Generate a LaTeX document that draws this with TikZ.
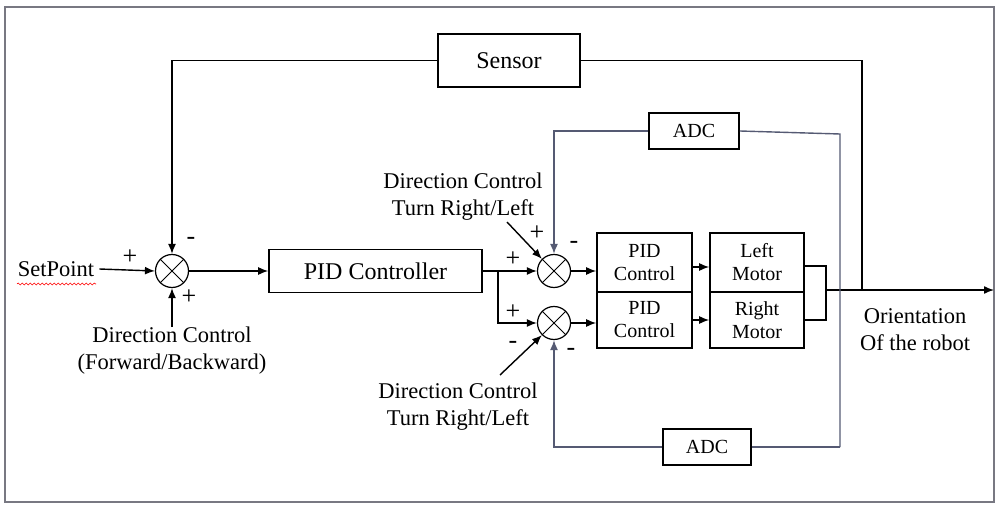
\documentclass[tikz,border=0pt]{standalone}
\usepackage{fontspec}
\setmainfont{Liberation Serif}
\usetikzlibrary{arrows.meta,decorations.pathmorphing}
\definecolor{adcline}{RGB}{85,90,115}
\definecolor{framecol}{RGB}{120,120,130}
\begin{document}
\begin{tikzpicture}[x=1pt,y=-1pt,
  lbl/.style={font=\fontsize{22.5}{27}\selectfont, align=center, inner sep=0},
  sgn/.style={font=\fontsize{26}{26}\selectfont, inner sep=0},
  blk/.style={draw, line width=1.6pt, inner sep=0, align=center, font=\fontsize{20}{23}\selectfont},
  bigblk/.style={blk, font=\fontsize{24}{28}\selectfont},
  sumj/.style={circle, draw, line width=1.2pt, minimum size=33pt, inner sep=0,
     path picture={\draw[line width=1pt] (path picture bounding box.center) +(45:17pt) -- +(225:17pt)
                     (path picture bounding box.center) +(135:17pt) -- +(315:17pt);}},
  ln/.style={line width=1.4pt},
  arr/.style={line width=1.4pt, -{Latex[length=10pt,width=8pt]}},
  aln/.style={line width=1.4pt, draw=adcline},
  aarr/.style={line width=1.4pt, draw=adcline, -{Latex[length=10pt,width=8pt]}}
]
\useasboundingbox (0,0) rectangle (998,505);
\draw[framecol, line width=1.4pt] (5,7) rectangle (994,502);

% blocks
\node[bigblk, minimum width=142pt, minimum height=53pt] (sensor) at (509,60.5) {Sensor};
\node[bigblk, minimum width=213pt, minimum height=43pt] (pidc) at (375.5,271) {PID Controller};
\node[blk, minimum width=95pt, minimum height=59pt] (pid1) at (644.5,262.5) {PID\\Control};
\node[blk, minimum width=95pt, minimum height=56pt] (pid2) at (644.5,320) {PID\\Control};
\node[blk, minimum width=94pt, minimum height=59pt] (lm) at (757,262.5) {Left\\Motor};
\node[blk, minimum width=94pt, minimum height=56pt] (rm) at (757,320) {Right\\Motor};
\node[blk, minimum width=90pt, minimum height=36pt] (adc1) at (694,131) {ADC};
\node[blk, minimum width=88pt, minimum height=36pt] (adc2) at (707,447) {ADC};

% summing junctions
\node[sumj] (s1) at (172,271) {};
\node[sumj] (s2) at (554,271) {};
\node[sumj] (s3) at (554,323) {};

% texts
\node[lbl] (sp) at (56,269) {SetPoint};
\draw[red, line width=0.6pt, decorate, decoration={snake, amplitude=1pt, segment length=4pt}] (17,284) -- (96,284);
\node[lbl] (dc1) at (172,351) {Direction Control\\(Forward/Backward)};
\node[lbl] (dc2) at (463,197) {Direction Control\\Turn Right/Left};
\node[lbl] (dc3) at (458,407) {Direction Control\\Turn Right/Left};
\node[lbl] (ori) at (915,330) {Orientation\\Of the robot};

% coordinates
\coordinate (br) at (498,271);
\coordinate (mj) at (826,290);
\coordinate (out) at (994,290);
\coordinate (sv) at (862,290);
\coordinate (av) at (840,134);
\coordinate (avb) at (840,447);
\coordinate (a2) at (507,222);
\coordinate (a3) at (500,375);

% main path
\draw[arr] ([xshift=5pt]sp.east) -- (s1.west);
\draw[arr] (s1.east) -- (pidc.west);
\draw[ln] (pidc.east) -- (br);
\draw[arr] (br) -- (s2.west);
\draw[arr] (br) |- (s3.west);
\draw[arr] (s2.east) -- (s2.east -| pid1.west);
\draw[arr] (s3.east) -- (s3.east -| pid2.west);
\draw[arr] ([yshift=-4.5pt]pid1.east) -- ([yshift=-4.5pt]lm.west);
\draw[arr] (pid2.east) -- (rm.west);
\draw[ln] ([yshift=-3.5pt]lm.east) -| (mj) |- (rm.east);
\draw[arr] (mj) -- (out);
\draw[arr] (dc1.north) -- (s1.south);
\draw[arr] (a2) -- (s2.135);
\draw[arr] (a3) -- (s3.225);

% sensor feedback
\draw[ln] (sv) |- (sensor.east);
\draw[arr] (sensor.west) -| (s1.north);

% ADC loops
\draw[aln] (avb) -- (av) -- (adc1.east);
\draw[aarr] (adc1.west) -| (s2.north);
\draw[aln] (avb) -- (adc2.east);
\draw[aarr] (adc2.west) -| (s3.south);

% signs
\node[sgn] (p1) at (130,257) {+};
\node[sgn] (m1) at (191,241) {-};
\node[sgn] (p2) at (189,297) {+};
\node[sgn] (p3) at (537,233) {+};
\node[sgn] (m2) at (574,245) {-};
\node[sgn] (p4) at (513,259) {+};
\node[sgn] (p5) at (513,312) {+};
\node[sgn] (m3) at (513,345) {-};
\node[sgn] (m4) at (571,352) {-};
\end{tikzpicture}
\end{document}
